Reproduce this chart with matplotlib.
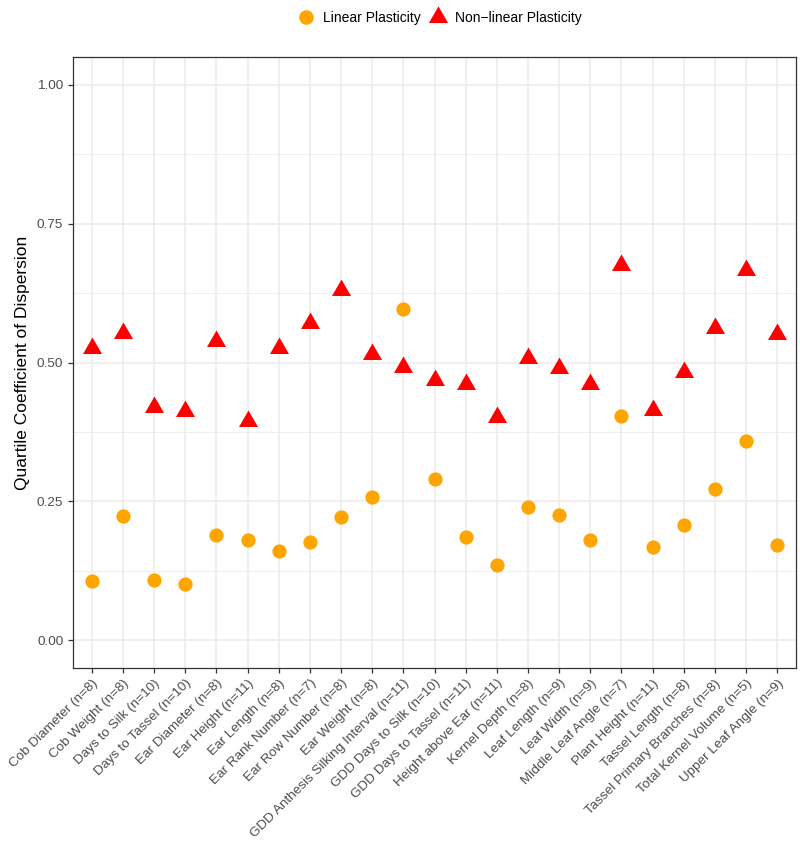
import numpy as np
from matplotlib import pyplot as plt
from matplotlib.lines import Line2D
from matplotlib.ticker import MultipleLocator

plt.rcParams["font.family"] = ["Liberation Sans", "DejaVu Sans"]

traits = [
    "Cob Diameter (n=8)",
    "Cob Weight (n=8)",
    "Days to Silk (n=10)",
    "Days to Tassel (n=10)",
    "Ear Diameter (n=8)",
    "Ear Height (n=11)",
    "Ear Length (n=8)",
    "Ear Rank Number (n=7)",
    "Ear Row Number (n=8)",
    "Ear Weight (n=8)",
    "GDD Anthesis Silking Interval (n=11)",
    "GDD Days to Silk (n=10)",
    "GDD Days to Tassel (n=11)",
    "Height above Ear (n=11)",
    "Kernel Depth (n=8)",
    "Leaf Length (n=9)",
    "Leaf Width (n=9)",
    "Middle Leaf Angle (n=7)",
    "Plant Height (n=11)",
    "Tassel Length (n=8)",
    "Tassel Primary Branches (n=8)",
    "Total Kernel Volume (n=5)",
    "Upper Leaf Angle (n=9)",
]

linear_qcd = [
    0.107, 0.223, 0.109, 0.102, 0.189, 0.181, 0.160, 0.177, 0.222, 0.258,
    0.597, 0.290, 0.185, 0.135, 0.240, 0.225, 0.181, 0.404, 0.168, 0.208,
    0.273, 0.359, 0.171,
]

nonlinear_qcd = [
    0.526, 0.553, 0.420, 0.412, 0.539, 0.395, 0.526, 0.572, 0.631, 0.515,
    0.492, 0.468, 0.461, 0.402, 0.508, 0.490, 0.461, 0.675, 0.414, 0.483,
    0.562, 0.666, 0.551,
]

y_ticks = [0.00, 0.25, 0.50, 0.75, 1.00]

# equilateral triangle centred on its centroid, like R's pch 17
tri = [(-1, -0.577), (1, -0.577), (0, 1.155), (-1, -0.577)]

fig = plt.figure(figsize=(8, 8.48), dpi=100)
ax = fig.add_axes([73 / 800, 1 - 668 / 848, 723 / 800, 611 / 848])

x = np.arange(1, len(traits) + 1)
ax.scatter(x, linear_qcd, s=105, marker="o", color="#FFA500", linewidths=0, zorder=3)
ax.scatter(x, nonlinear_qcd, s=250, marker=tri, color="#FF0000", linewidths=0, zorder=3)

ax.set_xlim(0.4, len(traits) + 0.6)
ax.set_ylim(-0.05, 1.05)
ax.set_xticks(x)
ax.set_xticklabels(traits, rotation=45, ha="right", rotation_mode="anchor")
ax.set_yticks(y_ticks)
ax.set_yticklabels([f"{v:.2f}" for v in y_ticks])
ax.yaxis.set_minor_locator(MultipleLocator(0.125))

# theme_bw look
ax.grid(which="major", color="#EBEBEB", linewidth=1.1, zorder=0)
ax.grid(which="minor", axis="y", color="#EBEBEB", linewidth=0.55, zorder=0)
ax.set_axisbelow(True)
for side in ax.spines.values():
    side.set_color("#333333")
    side.set_linewidth(0.9)
ax.tick_params(axis="both", which="major", labelsize=9.7, labelcolor="#4D4D4D",
               color="#333333", length=3.5, width=0.9)
ax.tick_params(axis="y", which="minor", length=0)
ax.tick_params(axis="x", pad=3)

ax.set_ylabel("Quartile Coefficient of Dispersion", fontsize=12.5, labelpad=5)

handles = [
    Line2D([], [], marker="o", linestyle="", color="#FFA500", markersize=10.5,
           markeredgewidth=0, label="Linear Plasticity"),
    Line2D([], [], marker=tri, linestyle="", color="#FF0000", markersize=16,
           markeredgewidth=0, label="Non\u2212linear Plasticity"),
]
fig.legend(handles=handles, loc="center", bbox_to_anchor=(439 / 800, 1 - 18 / 848), ncol=2,
           frameon=False, fontsize=10, handletextpad=0.53, columnspacing=0.55,
           handlelength=1.4)

fig.savefig("out.png", dpi=100)
